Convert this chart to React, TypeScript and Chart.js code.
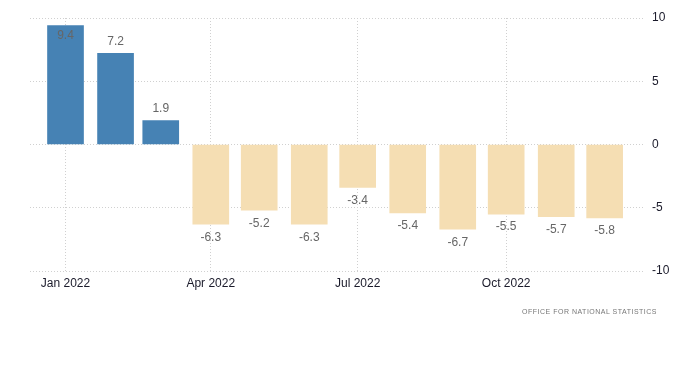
import React, { useEffect, useRef } from "react";
import { Chart, registerables } from "chart.js";

Chart.register(...registerables);

const monthDates = [
  "2022-01-01", "2022-02-01", "2022-03-01", "2022-04-01", "2022-05-01", "2022-06-01",
  "2022-07-01", "2022-08-01", "2022-09-01", "2022-10-01", "2022-11-01", "2022-12-01",
];
const values = [9.4, 7.2, 1.9, -6.3, -5.2, -6.3, -3.4, -5.4, -6.7, -5.5, -5.7, -5.8];
const xTickDates = ["2022-01-01", "2022-04-01", "2022-07-01", "2022-10-01"];
const xTickLabels = ["Jan 2022", "Apr 2022", "Jul 2022", "Oct 2022"];
const yTicks = [-10, -5, 0, 5, 10];
const sourceText = "OFFICE FOR NATIONAL STATISTICS";

const DAY = 86400000;
const base = Date.UTC(2022, 0, 1);
const toDay = (s: string) => {
  const [y, m, d] = s.split("-").map(Number);
  return Math.round((Date.UTC(y, m - 1, d) - base) / DAY);
};

const FONT = "'Liberation Sans', Arial, sans-serif";

const labelPlugin = {
  id: "barLabels",
  afterDatasetsDraw(chart: any) {
    const ctx = chart.ctx;
    const meta = chart.getDatasetMeta(0);
    ctx.save();
    ctx.font = `12px ${FONT}`;
    ctx.fillStyle = "#666666";
    ctx.textAlign = "center";
    ctx.textBaseline = "middle";
    meta.data.forEach((bar: any, i: number) => {
      const v = values[i];
      let y: number;
      if (v >= 0) {
        y = bar.y - 12;
        if (y < chart.chartArea.top + 4) y = bar.y + 10;
      } else {
        y = bar.y + 13;
      }
      ctx.fillText(v.toFixed(1), bar.x, y);
    });
    ctx.restore();
  },
};

export default function App() {
  const ref = useRef<HTMLCanvasElement | null>(null);
  useEffect(() => {
    if (!ref.current) return;
    const tickDays = xTickDates.map(toDay);
    const chart = new Chart(ref.current, {
      type: "bar",
      data: {
        datasets: [
          {
            data: monthDates.map((d, i) => ({ x: toDay(d), y: values[i] })) as any,
            backgroundColor: values.map((v) => (v >= 0 ? "#4682B4" : "#F5DEB3")),
            barThickness: 36,
            borderWidth: 0,
          },
        ],
      },
      options: {
        animation: false,
        responsive: true,
        maintainAspectRatio: false,
        layout: { padding: { left: 30, top: 18, right: 0, bottom: 0 } },
        plugins: { legend: { display: false }, tooltip: { enabled: false } },
        scales: {
          x: {
            type: "linear",
            offset: false,
            min: -22,
            max: 359,
            afterBuildTicks: (scale: any) => {
              scale.ticks = tickDays.map((v) => ({ value: v }));
            },
            afterFit: (scale: any) => {
              scale.height = 94;
            },
            ticks: {
              autoSkip: false,
              maxRotation: 0,
              padding: 5,
              color: "#1a1a2a",
              font: { family: FONT, size: 12 },
              callback: (v: any) => {
                const idx = tickDays.indexOf(Number(v));
                return idx >= 0 ? xTickLabels[idx] : "";
              },
            },
            grid: { color: "#d0d0d0", drawTicks: false, lineWidth: 1, offset: false },
            border: { display: false, dash: [1, 2] },
          },
          y: {
            position: "right",
            min: -10,
            max: 10,
            afterBuildTicks: (scale: any) => {
              scale.ticks = yTicks.map((v) => ({ value: v }));
            },
            afterFit: (scale: any) => {
              scale.width = 55;
            },
            ticks: {
              padding: 7,
              color: "#1a1a2a",
              font: { family: FONT, size: 12 },
            },
            grid: { color: "#d0d0d0", drawTicks: false, lineWidth: 1 },
            border: { display: false, dash: [1, 2] },
          },
        },
      },
      plugins: [labelPlugin],
    });
    return () => chart.destroy();
  }, []);

  return (
    <div style={{ position: "fixed", left: 0, top: 0, width: 700, height: 365, background: "#fff" }}>
      <canvas ref={ref} />
      <div
        style={{
          position: "absolute",
          right: 43,
          top: 308,
          fontFamily: FONT,
          fontSize: 7,
          letterSpacing: "0.5px",
          color: "#777777",
          whiteSpace: "nowrap",
        }}
      >
        {sourceText}
      </div>
    </div>
  );
}
